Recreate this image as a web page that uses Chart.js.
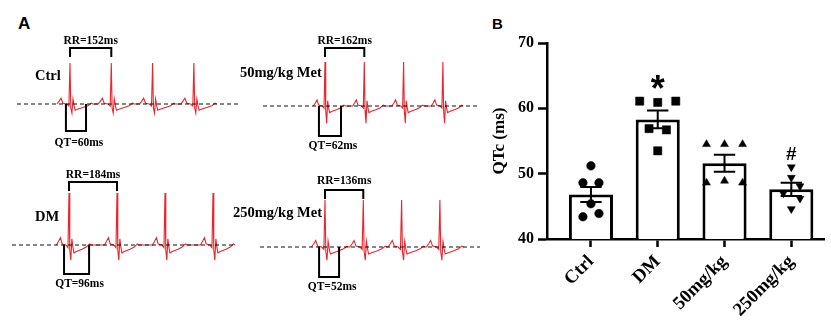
<!DOCTYPE html>
<html>
<head>
<meta charset="utf-8">
<script src="https://cdn.jsdelivr.net/npm/chart.js@4.4.1/dist/chart.umd.min.js"></script>
<style>
  body { margin: 0; background: #fff; }
  #fig { position: relative; width: 831px; height: 321px; overflow: hidden; }
  #fig canvas { position: absolute; }
  .pl { position: absolute; font-family: "Liberation Sans", Arial, sans-serif; font-weight: bold; color: #000; }
</style>
</head>
<body>
<div id="fig">
  <div class="pl" style="left:18px;top:15px;font-size:17px;line-height:17px">A</div>
  <div class="pl" style="left:492px;top:16px;font-size:15px;line-height:15px">B</div>
</div>
<script>
// panel B: QTc per group
const groups = ["Ctrl", "DM", "50mg/kg", "250mg/kg"];
const qtcMean = [46.8, 58.3, 51.6, 47.6];
const qtcSem = [1.15, 1.35, 1.3, 1.0];
const ptsCtrl = [51.2, 48.6, 48.6, 45.4, 43.4, 43.9];
const jitCtrl = [0, -0.12, 0.12, 0, -0.12, 0.12];
const ptsDM = [61.1, 60.9, 61.1, 56.9, 56.7, 53.5];
const jitDM = [-0.27, 0, 0.27, -0.13, 0.13, 0];
const pts50 = [54.5, 54.5, 54.5, 48.6, 48.9, 48.6];
const jit50 = [-0.27, 0, 0.27, -0.27, 0, 0.27];
const pts250 = [51.0, 49.4, 48.1, 47.0, 46.2, 44.6];
const jit250 = [0, 0, 0.13, -0.12, 0.13, 0];
const yTicks = [40, 50, 60, 70];
const sigText = ["", "*", "", "#"];
const sigAt = [null, 64.0, null, 53.1];

// panel A: ECG traces
const traceNames = ["Ctrl", "50mg/kg Met", "DM", "250mg/kg Met"];
const rrMs = [152, 162, 184, 136];
const qtMs = [60, 62, 96, 52];
const rCtrl = [0, 152, 304, 456];
const r50 = [0, 162, 324, 486];
const rDM = [0, 184, 368, 552];
const r250 = [0, 136, 272, 408];
const rPeaks = [rCtrl, r50, rDM, r250];
const sDepth = [0.22, 0.39, 0.29, 0.28];
const qtSpan = [[-15, 59], [-25, 66], [-19, 77], [-21, 50]];
// one beat, ms from R peak / amplitude relative to R (null = S wave)
const beatT = [-48, -40, -33, -26, -12, -4, 0, 3, 7, 11, 15, 19, 30, 50, 66, 78, 84];
const beatV = [0, 0.07, 0.14, 0.02, 0, -0.05, 1, -0.1, null, 0.12, -0.04, -0.15, -0.12, -0.08, -0.04, 0.02, 0];

const SERIF = '"Liberation Serif", "Times New Roman", serif';
const SANS = '"Liberation Sans", Arial, sans-serif';
const fig = document.getElementById("fig");

function makeCanvas(x, y, w, h) {
  const c = document.createElement("canvas");
  c.width = w; c.height = h;
  c.style.left = x + "px"; c.style.top = y + "px";
  c.style.width = w + "px"; c.style.height = h + "px";
  fig.appendChild(c);
  return c;
}

// page layout of each ECG box
const ecgBox = [
  { x: 0, y: 20, w: 240, h: 140, r1: 70, beat: 41.3, base: 104, peak: 63, dash: [17, 240], lab: [35, 76], rrTop: 48, rrTick: 57, rrText: 41, qtBot: 131, qtText: 143 },
  { x: 236, y: 20, w: 244, h: 140, r1: 325, beat: 39.3, base: 106, peak: 62, dash: [263, 480], lab: [240, 73], rrTop: 48, rrTick: 57, rrText: 41, qtBot: 136, qtText: 146 },
  { x: 0, y: 160, w: 240, h: 140, r1: 69, beat: 48, base: 245, peak: 193, dash: [12, 236], lab: [35, 217], rrTop: 182, rrTick: 191, rrText: 175, qtBot: 274, qtText: 284 },
  { x: 228, y: 160, w: 252, h: 140, r1: 325, beat: 38.3, base: 247, peak: 200, dash: [260, 480], lab: [233, 213], rrTop: 190, rrTick: 199, rrText: 181, qtBot: 277, qtText: 287 }
];

const ecgDeco = {
  id: "ecgDeco",
  afterDatasetsDraw(chart, args, opts) {
    const i = opts.idx, b = ecgBox[i], ctx = chart.ctx;
    const xs = chart.scales.x, ys = chart.scales.y;
    const y0 = ys.getPixelForValue(0);
    ctx.save();
    ctx.strokeStyle = "#111";
    ctx.lineWidth = 1.2;
    ctx.setLineDash([4, 3]);
    ctx.beginPath();
    ctx.moveTo(b.dash[0] - b.x, y0);
    ctx.lineTo(b.dash[1] - b.x, y0);
    ctx.stroke();
    ctx.setLineDash([]);

    // RR bracket
    ctx.strokeStyle = "#000";
    ctx.lineWidth = 2;
    const a = xs.getPixelForValue(rPeaks[i][0]), c = xs.getPixelForValue(rPeaks[i][1]);
    ctx.beginPath();
    ctx.moveTo(a, b.rrTick - b.y);
    ctx.lineTo(a, b.rrTop - b.y);
    ctx.lineTo(c, b.rrTop - b.y);
    ctx.lineTo(c, b.rrTick - b.y);
    ctx.stroke();
    // QT bracket
    const q1 = xs.getPixelForValue(rPeaks[i][0] + qtSpan[i][0]);
    const q2 = xs.getPixelForValue(rPeaks[i][0] + qtSpan[i][1]);
    ctx.beginPath();
    ctx.moveTo(q1, y0);
    ctx.lineTo(q1, b.qtBot - b.y);
    ctx.lineTo(q2, b.qtBot - b.y);
    ctx.lineTo(q2, y0);
    ctx.stroke();

    ctx.fillStyle = "#000";
    ctx.textBaseline = "middle";
    ctx.textAlign = "center";
    ctx.font = "bold 11.5px " + SERIF;
    ctx.fillText("RR=" + rrMs[i] + "ms", (a + c) / 2, b.rrText - b.y);
    ctx.fillText("QT=" + qtMs[i] + "ms", (q1 + q2) / 2 + 3, b.qtText - b.y);
    ctx.textAlign = "left";
    ctx.font = "bold 14.5px " + SERIF;
    ctx.fillText(traceNames[i], b.lab[0] - b.x, b.lab[1] - b.y);
    ctx.restore();
  }
};

ecgBox.forEach((b, i) => {
  const cv = makeCanvas(b.x, b.y, b.w, b.h);
  const msPerPx = rrMs[i] / b.beat;
  const xmin = rPeaks[i][0] - (b.r1 - b.x) * msPerPx;
  const unit = b.base - b.peak;
  const pts = [];
  rPeaks[i].forEach(r => {
    beatT.forEach((t, k) => {
      pts.push({ x: r + t, y: beatV[k] === null ? -sDepth[i] : beatV[k] });
    });
  });
  new Chart(cv, {
    type: "line",
    data: { datasets: [{ data: pts, borderColor: "#e8262d", borderWidth: 1.1, pointRadius: 0, tension: 0 }] },
    options: {
      responsive: false,
      animation: false,
      events: [],
      layout: { padding: 0 },
      plugins: { legend: { display: false }, tooltip: { enabled: false }, ecgDeco: { idx: i } },
      scales: {
        x: { type: "linear", display: false, min: xmin, max: xmin + b.w * msPerPx },
        y: { type: "linear", display: false, min: -(b.y + b.h - b.base) / unit, max: (b.base - b.y) / unit }
      }
    },
    plugins: [ecgDeco]
  });
});

// panel B
const markers = [
  { vals: ptsCtrl, jit: jitCtrl, style: "circle", r: 4.3, rot: 0 },
  { vals: ptsDM, jit: jitDM, style: "rect", r: 5.8, rot: 0 },
  { vals: pts50, jit: jit50, style: "triangle", r: 4.6, rot: 0 },
  { vals: pts250, jit: jit250, style: "triangle", r: 4.6, rot: 180 }
];

const errBars = {
  id: "errBars",
  afterDatasetDraw(chart, args) {
    if (args.index !== 0) return;
    const ctx = chart.ctx, xs = chart.scales.x, ys = chart.scales.y;
    ctx.save();
    ctx.strokeStyle = "#000";
    ctx.lineWidth = 2;
    qtcMean.forEach((m, i) => {
      const x = xs.getPixelForValue(i);
      const half = xs.getPixelForValue(i + 0.16) - x;
      const hi = ys.getPixelForValue(m + qtcSem[i]), lo = ys.getPixelForValue(m - qtcSem[i]);
      ctx.beginPath();
      ctx.moveTo(x, hi); ctx.lineTo(x, lo);
      ctx.moveTo(x - half, hi); ctx.lineTo(x + half, hi);
      ctx.moveTo(x - half, lo); ctx.lineTo(x + half, lo);
      ctx.stroke();
    });
    ctx.restore();
  },
  afterDatasetsDraw(chart) {
    const ctx = chart.ctx, xs = chart.scales.x, ys = chart.scales.y;
    ctx.save();
    ctx.fillStyle = "#000";
    ctx.textAlign = "center";
    ctx.textBaseline = "alphabetic";
    sigText.forEach((s, i) => {
      if (!s) return;
      ctx.font = "bold " + (s === "*" ? 36 : 19) + "px " + SANS;
      const m = ctx.measureText(s);
      const yc = ys.getPixelForValue(sigAt[i]);
      const off = (m.actualBoundingBoxAscent - m.actualBoundingBoxDescent) / 2;
      ctx.fillText(s, xs.getPixelForValue(i), yc + off);
    });
    ctx.restore();
  }
};

const cvB = makeCanvas(480, 0, 351, 321);
new Chart(cvB, {
  type: "bar",
  data: {
    datasets: [
      {
        type: "bar",
        data: qtcMean.map((v, i) => ({ x: i, y: v })),
        backgroundColor: "#fff",
        borderColor: "#000",
        borderWidth: 3,
        barPercentage: 0.66,
        categoryPercentage: 1,
        order: 3
      }
    ].concat(markers.map((m, g) => ({
      type: "scatter",
      data: m.vals.map((v, k) => ({ x: g + m.jit[k], y: v })),
      pointStyle: m.style,
      pointRadius: m.r,
      pointRotation: m.rot,
      backgroundColor: "#000",
      borderColor: "#000",
      borderWidth: 0.5,
      order: 1
    })))
  },
  options: {
    responsive: false,
    animation: false,
    events: [],
    layout: { padding: { top: 43, left: 0, right: 0, bottom: 0 } },
    plugins: { legend: { display: false }, tooltip: { enabled: false } },
    scales: {
      x: {
        type: "linear",
        offset: false,
        min: -0.658,
        max: 3.5,
        afterBuildTicks: s => { s.ticks = groups.map((g, i) => ({ value: i })); },
        afterFit: s => { s.height = 82; },
        grid: { display: true, offset: false, drawOnChartArea: false, drawTicks: true, tickLength: 8, tickWidth: 2.5, color: "#000" },
        border: { display: true, color: "#000", width: 2.5 },
        ticks: {
          autoSkip: false, maxRotation: 45, minRotation: 45, padding: 4, color: "#000",
          font: { family: SERIF, size: 18.5, weight: "bold" },
          callback: v => groups[v] || ""
        }
      },
      y: {
        min: 40,
        max: 70,
        afterBuildTicks: s => { s.ticks = yTicks.map(v => ({ value: v })); },
        afterFit: s => { s.width = 67; },
        grid: { drawOnChartArea: false, tickLength: 9, tickWidth: 2.5, color: "#000" },
        border: { display: true, color: "#000", width: 2.5 },
        ticks: { padding: 4, color: "#000", font: { family: SERIF, size: 16, weight: "bold" } },
        title: {
          display: true, text: "QTc (ms)", color: "#000",
          font: { family: SERIF, size: 17, weight: "bold" },
          padding: { top: 9, bottom: 0 }
        }
      }
    }
  },
  plugins: [errBars]
});
</script>
</body>
</html>
